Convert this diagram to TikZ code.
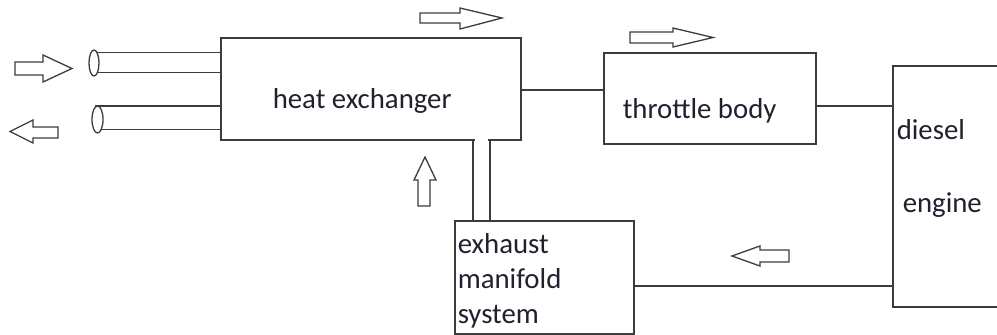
\documentclass[tikz,border=0pt]{standalone}
\usepackage{fontspec}
\setmainfont{Carlito}
\usetikzlibrary{calc}
\begin{document}
\begin{tikzpicture}[x=1pt,y=-1pt,
  line width=1.5pt,
  box/.style={draw=linegray, line width=1.5pt, rectangle, inner sep=0pt, anchor=north west},
  label/.style={anchor=base west, inner sep=0pt, text=txt, font=\fontsize{28.8}{30}\selectfont},
  flow/.style={draw=linegray, line width=1.3pt, fill=white, line join=miter},
  pipe/.style={draw=linegray, line width=1.5pt},
]
\definecolor{linegray}{HTML}{3C3C3C}
\definecolor{txt}{HTML}{20202E}
\useasboundingbox (0,0) rectangle (997,335);
\clip (0,0) rectangle (997,335);

% main blocks
\node[box, minimum width=300pt, minimum height=102pt] (hx) at (220,37) {};
\node[box, minimum width=212pt, minimum height=91pt] (tb) at (603,52) {};
\node[box, minimum width=179pt, minimum height=113pt] (ex) at (454,220) {};
\node[box, minimum width=130pt, minimum height=241pt] (eng) at (892,65) {};

% labels
\node[label] (hxt) at (272,108) {heat exchanger};
\node[label] (tbt) at (622,118) {throttle body};
\node[label] (ex1) at (457,253) {exhaust};
\node[label] (ex2) at (457,288) {manifold};
\node[label] (ex3) at (457,323) {system};
\node[label] (en1) at (896,139) {diesel};
\node[label] (en2) at (902,212) {engine};

% exhaust pipe from manifold up into the heat exchanger
\coordinate (pl) at (473,0);
\coordinate (pr) at (490,0);
\draw[white, line width=2.5pt] ($(pl |- hx.south)+(1.6,0)$) -- ($(pr |- hx.south)+(-1.6,0)$);
\draw[pipe] (pl |- hx.south) -- (pl |- ex.north);
\draw[pipe] (pr |- hx.south) -- (pr |- ex.north);

% connecting lines
\coordinate (c1) at (0,90);
\coordinate (c2) at (0,106);
\coordinate (c3) at (0,286);
\draw[pipe] (c1 -| hx.east) -- (c1 -| tb.west);
\draw[pipe] (c2 -| tb.east) -- (c2 -| eng.west);
\draw[pipe] (c3 -| ex.east) -- (c3 -| eng.west);

% air pipes on the left
\coordinate (a1) at (97,52.7);
\coordinate (a2) at (97,72.7);
\coordinate (b1) at (95,106);
\coordinate (b2) at (96,129.3);
\draw[pipe] (a1) -- (a1 -| hx.west);
\draw[pipe] (a2) -- (a2 -| hx.west);
\draw[pipe] (b1) -- (b1 -| hx.west);
\draw[pipe] (b2) -- (b2 -| hx.west);
\draw[pipe, line width=1.3pt, fill=white] (94,63) ellipse [x radius=5, y radius=13];
\draw[pipe, line width=1.3pt, fill=white] (97.5,119.5) ellipse [x radius=5.5, y radius=13.5];

% flow arrows
\draw[flow] (15,62) -- (43,62) -- (43,55) -- (72,68.5) -- (43,82) -- (43,75) -- (15,75) -- cycle;
\draw[flow] (58,127) -- (33,127) -- (33,120) -- (10,131.5) -- (33,143) -- (33,138) -- (58,138) -- cycle;
\draw[flow] (420,13) -- (460,13) -- (460,8) -- (502,18) -- (460,29) -- (460,23) -- (420,23) -- cycle;
\draw[flow] (630,32) -- (673,32) -- (673,28) -- (713,37.5) -- (673,47) -- (673,43) -- (630,43) -- cycle;
\draw[flow] (418,206) -- (418,180) -- (414,180) -- (425,157) -- (436,180) -- (430,180) -- (430,206) -- cycle;
\draw[flow] (789,250) -- (760,250) -- (760,246) -- (732,256) -- (760,266) -- (760,262) -- (789,262) -- cycle;
\end{tikzpicture}
\end{document}
